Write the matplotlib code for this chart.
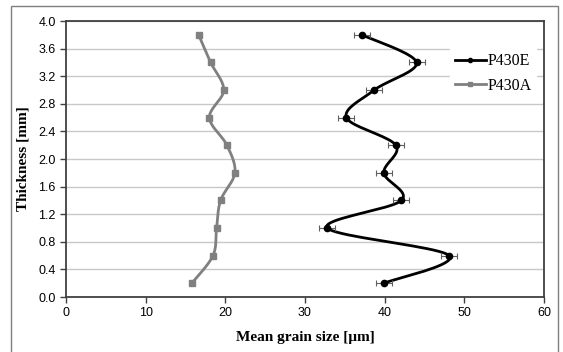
import matplotlib
matplotlib.use("Agg")
import matplotlib.pyplot as plt
from matplotlib.patches import Rectangle
import numpy as np

# thickness positions [mm]
thickness = [0.2, 0.6, 1.0, 1.4, 1.8, 2.2, 2.6, 3.0, 3.4, 3.8]

# mean grain size [um]
p430e = [39.9, 48.1, 32.8, 42.1, 39.9, 41.4, 35.2, 38.7, 44.0, 37.1]
p430e_err = [1.0, 1.0, 1.0, 1.0, 1.0, 1.0, 1.0, 1.0, 1.0, 1.0]
p430a = [15.8, 18.45, 18.9, 19.4, 21.2, 20.2, 18.0, 19.8, 18.15, 16.65]

x_ticks = [0, 10, 20, 30, 40, 50, 60]
y_ticks = [0.0, 0.4, 0.8, 1.2, 1.6, 2.0, 2.4, 2.8, 3.2, 3.6, 4.0]


def smooth(xs, ys, n=20):
    # Catmull-Rom curve through the points, like a smoothed line in a spreadsheet
    p = np.column_stack([xs, ys]).astype(float)
    p = np.vstack([p[0], p, p[-1]])
    out = []
    t = np.linspace(0, 1, n, endpoint=False)[:, None]
    for i in range(1, len(p) - 2):
        p0, p1, p2, p3 = p[i - 1], p[i], p[i + 1], p[i + 2]
        seg = 0.5 * ((2 * p1) + (-p0 + p2) * t + (2 * p0 - 5 * p1 + 4 * p2 - p3) * t ** 2
                     + (-p0 + 3 * p1 - 3 * p2 + p3) * t ** 3)
        out.append(seg)
    out.append(p[-2][None, :])
    out = np.vstack(out)
    return out[:, 0], out[:, 1]


fig = plt.figure(figsize=(5.63, 3.52), dpi=100)
fig.patches.append(Rectangle((11 / 563, -0.05), 547 / 563, 1 - 6 / 352 + 0.05,
                             transform=fig.transFigure, fill=False,
                             edgecolor="#7f7f7f", linewidth=1.0))

ax = fig.add_axes([66 / 563, 1 - 297 / 352, (544 - 66) / 563, (297 - 21) / 352])

gray = "#808080"
sx, sy = smooth(p430a, thickness)
ax.plot(sx, sy, color=gray, lw=2, zorder=3)
ax.plot(p430a, thickness, ls="none", marker="s", ms=5, color=gray, zorder=4)

sx, sy = smooth(p430e, thickness)
ax.plot(sx, sy, color="black", lw=2, zorder=5)
ax.errorbar(p430e, thickness, xerr=p430e_err, fmt="o", ms=4.5, color="black",
            ecolor="#606060", elinewidth=0.8, capsize=2.5, capthick=0.8, zorder=6)

# legend handles
ax.plot([], [], color="black", lw=2, marker="o", ms=3, label="P430E")
ax.plot([], [], color=gray, lw=2, marker="s", ms=3, label="P430A")
handles, labels = ax.get_legend_handles_labels()
leg = ax.legend(handles[-2:], labels[-2:], loc="upper right", bbox_to_anchor=(1.0, 0.93),
                frameon=True, fancybox=False, framealpha=1, edgecolor="white",
                handlelength=1.9, handletextpad=0.1, borderpad=0.3, labelspacing=0.55,
                prop={"family": "Liberation Serif", "size": 11.5})

ax.set_xlim(0, 60)
ax.set_ylim(0, 4.0)
ax.set_xticks(x_ticks)
ax.set_yticks(y_ticks)
ax.set_xticklabels([str(v) for v in x_ticks], family="Liberation Sans", fontsize=9)
ax.set_yticklabels([f"{v:.1f}" for v in y_ticks], family="Liberation Sans", fontsize=9)
ax.yaxis.grid(True, color="#c8c8c8", lw=1)
ax.set_axisbelow(True)
ax.tick_params(direction="out", length=4, width=1, color="#404040")
for s in ax.spines.values():
    s.set_color("#404040")
    s.set_linewidth(1.3)

ax.set_xlabel("Mean grain size [\u03bcm]", family="Liberation Serif", fontweight="bold",
              fontsize=11, labelpad=8)
ax.set_ylabel("Thickness [mm]", family="Liberation Serif", fontweight="bold",
              fontsize=11, labelpad=6)

fig.savefig("out.png", dpi=100)
